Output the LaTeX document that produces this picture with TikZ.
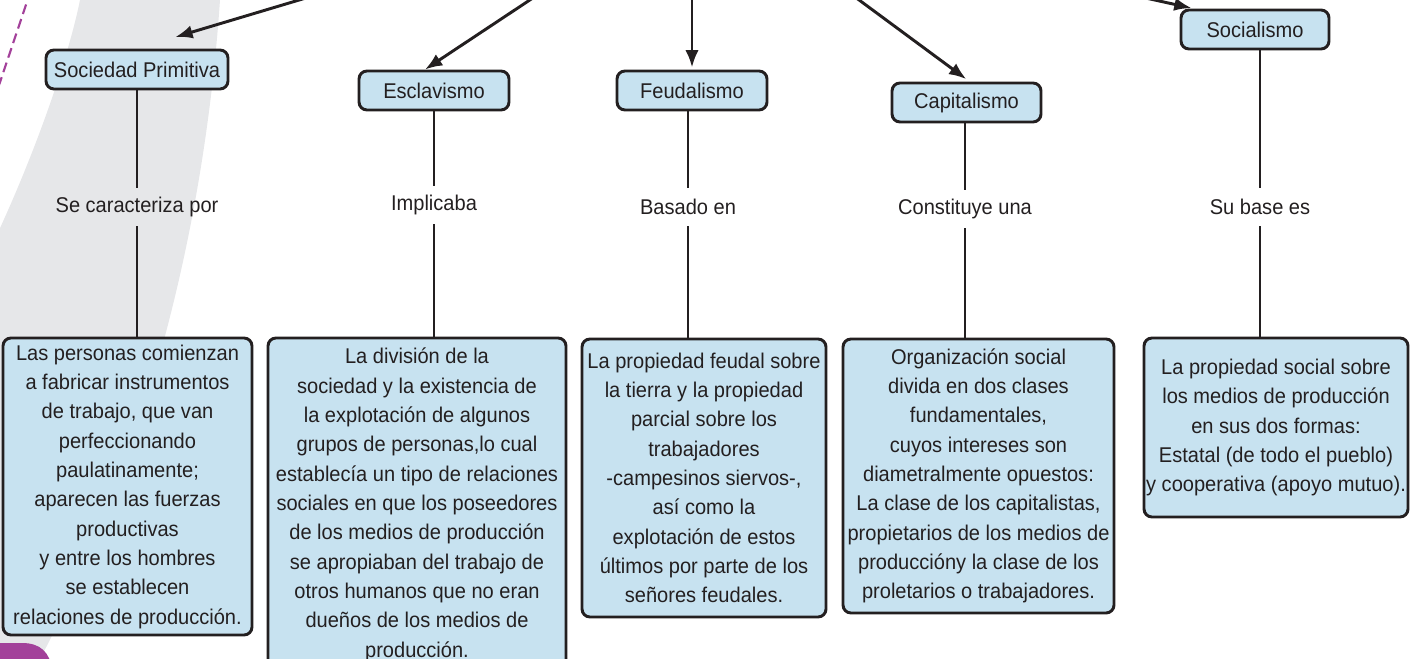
\documentclass[tikz,border=0pt]{standalone}
\usepackage{fontspec}
\setmainfont{Liberation Sans}[FakeStretch=0.94]
\usepackage{tikz}
\usetikzlibrary{arrows.meta}
\usepackage{color}
\definecolor{boxblue}{RGB}{199,226,240}
\definecolor{bandgray}{RGB}{230,231,233}
\definecolor{purp}{RGB}{163,65,154}
\definecolor{ink}{RGB}{35,31,32}

\begin{document}
\begin{tikzpicture}[x=0.75pt,y=0.75pt,yscale=-1,xscale=1,
  titlebox/.style={draw=ink,line width=2.2pt,fill=boxblue,rounded corners=6pt,minimum height=29.25pt,inner sep=1pt,text=ink,font=\fontsize{16}{22}\selectfont},
  descbox/.style={draw=ink,line width=2.2pt,fill=boxblue,rounded corners=6pt,inner sep=1pt,align=center,text=ink,font=\fontsize{16}{22}\selectfont},
  linklabel/.style={minimum height=28.5pt,inner sep=0pt,text=ink,font=\fontsize{16}{22}\selectfont},
  link/.style={draw=ink,line width=2.2pt},
  arr/.style={draw=ink,line width=2.2pt,-{Latex[length=13pt,width=10pt]}}]
%uncomment if require: \path (0,659); %set diagram left start at 0, and has height of 659
\useasboundingbox (0,0) rectangle (1417,659);
\clip (0,0) rectangle (1417,659);

%Shape: Gray band
\fill[bandgray] (80,0) .. controls (68,60) and (30,170) .. (-20,270) -- (-20,680) -- (33,680) -- (40,659) .. controls (150,450) and (205,220) .. (220,0) -- cycle ;
%Straight Lines: dashed purple
\draw[purp,line width=1.6pt,dash pattern=on 7.5pt off 4pt] (31,-10) -- (-5,97) ;
%Shape: Purple corner
\fill[purp] (-5,643) -- (22,643) .. controls (40,643) and (50,652) .. (52,670) -- (-5,670) -- cycle ;

%Free ends of the arrows (above the sheet)
\coordinate (top1) at (366,-20);
\coordinate (top2) at (560,-20);
\coordinate (top3) at (692,-20);
\coordinate (top4) at (832,-20);
\coordinate (top5) at (1100,-12);

%Shape: Title boxes
\node[titlebox,minimum width=136.5pt] (prim) at (137,69.5) {Sociedad Primitiva};
\node[titlebox,minimum width=112.5pt] (escl) at (434,90.5) {Esclavismo};
\node[titlebox,minimum width=112.5pt] (feud) at (692,90.5) {Feudalismo};
\node[titlebox,minimum width=111.75pt] (capi) at (966.5,102.5) {Capitalismo};
\node[titlebox,minimum width=111pt] (soci) at (1255,29.5) {Socialismo};

%Text: link words
\node[linklabel] (lbl1) at (137,207) {Se caracteriza por};
\node[linklabel] (lbl2) at (434,205) {Implicaba};
\node[linklabel] (lbl3) at (688,207) {Basado en};
\node[linklabel] (lbl4) at (965,209) {Constituye una};
\node[linklabel] (lbl5) at (1260,207) {Su base es};

%Shape: Description boxes
\node[descbox,minimum width=186.75pt,minimum height=222.75pt] (desc1) at (127.5,486.5) {Las personas comienzan\\a fabricar instrumentos\\de trabajo, que van\\perfeccionando\\paulatinamente;\\aparecen las fuerzas\\productivas\\y entre los hombres\\se establecen\\relaciones de producción.};
\node[descbox,minimum width=223.5pt,minimum height=250.5pt] (desc2) at (417,505) {La división de la\\sociedad y la existencia de\\la explotación de algunos\\grupos de personas,lo cual\\establecía un tipo de relaciones\\sociales en que los poseedores\\de los medios de producción\\se apropiaban del trabajo de\\otros humanos que no eran\\dueños de los medios de\\producción.};
\node[descbox,minimum width=183pt,minimum height=208.5pt] (desc3) at (704,478) {La propiedad feudal sobre\\la tierra y la propiedad\\parcial sobre los\\trabajadores\\-campesinos siervos-,\\así como la\\explotación de estos\\últimos por parte de los\\señores feudales.};
\node[descbox,minimum width=203.25pt,minimum height=205.5pt] (desc4) at (978.5,476) {Organización social\\divida en dos clases\\fundamentales,\\cuyos intereses son\\diametralmente opuestos:\\La clase de los capitalistas,\\propietarios de los medios de\\produccióny la clase de los\\proletarios o trabajadores.};
\node[descbox,minimum width=198pt,minimum height=134.25pt] (desc5) at (1276,427.5) {La propiedad social sobre\\los medios de producción\\en sus dos formas:\\Estatal (de todo el pueblo)\\y cooperativa (apoyo mutuo).};

%Straight Lines: arrows from above
\draw[arr,shorten >=30pt] (top1) -- (prim.north) ;
\draw[arr] (top2) -- ([xshift=-6.75pt]escl.north) ;
\draw[arr,shorten >=1.5pt] (top3) -- (feud.north) ;
\draw[arr,shorten >=3pt] (top4) -- ([xshift=2.25pt]capi.north) ;
\draw[arr,shorten >=1.5pt] (top5) -- ([xshift=10.5pt]soci.north west) ;

%Straight Lines: title to link word to description
\draw[link] (prim.south -| lbl1) -- (lbl1.north) ;
\draw[link] (lbl1.south) -- (lbl1.south |- desc1.north) ;
\draw[link] (escl.south -| lbl2) -- (lbl2.north) ;
\draw[link] (lbl2.south) -- (lbl2.south |- desc2.north) ;
\draw[link] (feud.south -| lbl3) -- (lbl3.north) ;
\draw[link] (lbl3.south) -- (lbl3.south |- desc3.north) ;
\draw[link] (capi.south -| lbl4) -- (lbl4.north) ;
\draw[link] (lbl4.south) -- (lbl4.south |- desc4.north) ;
\draw[link] (soci.south -| lbl5) -- (lbl5.north) ;
\draw[link] (lbl5.south) -- (lbl5.south |- desc5.north) ;

\end{tikzpicture}
\end{document}
